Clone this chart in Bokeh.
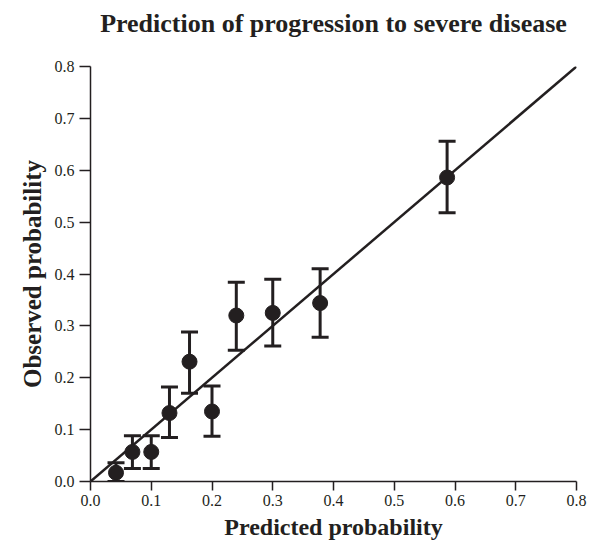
from bokeh.plotting import figure
from bokeh.models import Range1d, FixedTicker, Whisker, TeeHead, ColumnDataSource, PrintfTickFormatter, Title
from bokeh.embed import file_html
from bokeh.resources import INLINE

# Data
predicted = [0.042, 0.069, 0.100, 0.130, 0.163, 0.200, 0.240, 0.300, 0.378, 0.587]
observed = [0.017, 0.057, 0.057, 0.132, 0.231, 0.135, 0.320, 0.325, 0.344, 0.586]
lower = [0.000, 0.025, 0.025, 0.085, 0.170, 0.087, 0.253, 0.261, 0.278, 0.518]
upper = [0.036, 0.088, 0.088, 0.182, 0.288, 0.184, 0.384, 0.390, 0.410, 0.656]
ref_x = [0.0, 0.8]
ref_y = [0.0, 0.8]
ticks = [0.0, 0.1, 0.2, 0.3, 0.4, 0.5, 0.6, 0.7, 0.8]

INK = "#231f20"
SERIF = "Liberation Serif"

p = figure(width=587, height=542, output_backend="svg", toolbar_location=None,
           x_range=Range1d(0, 0.8), y_range=Range1d(0, 0.8),
           min_border_left=90, min_border_right=11, min_border_bottom=0, min_border_top=66,
           title="Prediction of progression to severe disease")

# empty spacer panel between the frame and the title
p.add_layout(Title(text=" ", text_font_size="20px", standoff=0), "above")

p.title.text_font = SERIF
p.title.text_font_size = "26px"
p.title.text_font_style = "bold"
p.title.text_color = INK
p.title.align = "center"
p.title.offset = 6

p.outline_line_color = None
p.grid.visible = False
p.background_fill_color = "white"
p.border_fill_color = "white"

for ax in (p.xaxis, p.yaxis):
    ax.ticker = FixedTicker(ticks=ticks)
    ax.formatter = PrintfTickFormatter(format="%.1f")
    ax.minor_tick_line_color = None
    ax.major_tick_in = 0
    ax.major_tick_line_width = 1.5
    ax.major_tick_line_color = INK
    ax.axis_line_width = 1.5
    ax.axis_line_color = INK
    ax.major_label_text_font = SERIF
    ax.major_label_text_font_size = "16px"
    ax.major_label_text_color = INK
    ax.axis_label_text_font = SERIF
    ax.axis_label_text_font_size = "24px"
    ax.axis_label_text_font_style = "bold"
    ax.axis_label_text_color = INK

p.xaxis.axis_label = "Predicted probability"
p.yaxis.axis_label = "Observed probability"
p.yaxis.axis_label_text_font_size = "25px"
p.xaxis.major_tick_out = 9
p.yaxis.major_tick_out = 11
p.xaxis.major_label_standoff = 4
p.yaxis.major_label_standoff = 5
p.xaxis.axis_label_standoff = 5
p.yaxis.axis_label_standoff = 6

p.line(ref_x, ref_y, line_width=2.5, line_color=INK)

src = ColumnDataSource(dict(x=predicted, y=observed, lo=lower, hi=upper))
w = Whisker(base="x", lower="lo", upper="hi", source=src,
            line_width=3, line_color=INK,
            upper_head=TeeHead(size=17, line_width=3, line_color=INK),
            lower_head=TeeHead(size=17, line_width=3, line_color=INK))
p.add_layout(w)
p.scatter("x", "y", source=src, size=15, fill_color=INK, line_color=INK)

open("out.html", "w").write(file_html(p, INLINE))
